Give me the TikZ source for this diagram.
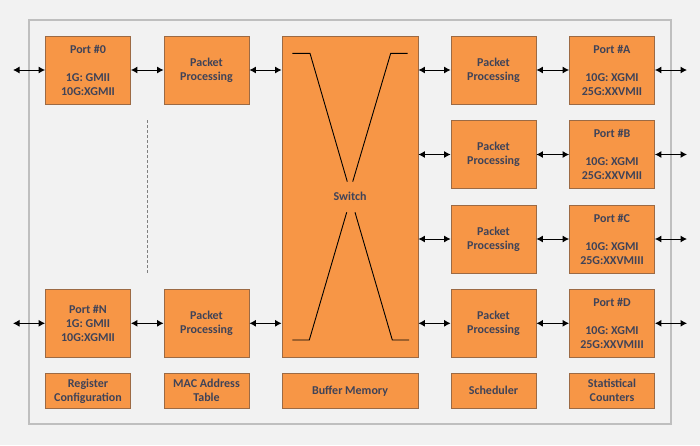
\documentclass[tikz,border=0pt]{standalone}
\usepackage{fontspec}
\setmainfont{Carlito}
\usetikzlibrary{arrows.meta}
\definecolor{bgc}{HTML}{F2F2F2}
\definecolor{framec}{HTML}{BFBFBF}
\definecolor{orangec}{HTML}{F79646}
\definecolor{borderc}{HTML}{9C6A44}
\definecolor{txtc}{HTML}{3F4358}
\begin{document}
\begin{tikzpicture}[x=1pt,y=-1pt,
  box/.style={draw=borderc,fill=orangec,line width=0.8pt,inner sep=0pt,align=center,
    text=txtc,font=\bfseries\fontsize{12}{14}\selectfont,minimum width=85pt,minimum height=68pt},
  small/.style={box,minimum height=34.5pt},
  link/.style={line width=1pt,{Latex[length=6.5pt,width=7pt]}-{Latex[length=6.5pt,width=7pt]}},
  xline/.style={line width=0.9pt,black}]
\useasboundingbox[fill=bgc] (0,0) rectangle (700,445);
\draw[framec,line width=1.4pt] (29,20) rectangle (671,424);

% left column
\node[box] (p0) at (88,70) {Port \#0\\[14pt]1G: GMII\\10G:XGMII};
\node[box] (pp0) at (206.5,70) {Packet\\Processing};
\node[box] (pN) at (88,323.3) {Port \#N\\1G: GMII\\10G:XGMII};
\node[box] (ppN) at (206.5,323.3) {Packet\\Processing};

% switch
\node[box,minimum width=136pt,minimum height=321pt] (sw) at (350,196.4) {Switch};
\draw[xline] (292.3,53.3) -- (310,53.3) -- (347.3,181.7);
\draw[xline] (407.7,53.3) -- (390.7,53.3) -- (352.7,181.7);
\draw[xline] (346.7,212.3) -- (309.3,340) -- (292.3,340);
\draw[xline] (355,212.3) -- (392.3,340) -- (409,340);

% right column
\node[box] (ppA) at (493.5,70) {Packet\\Processing};
\node[box] (ppB) at (493.5,154.5) {Packet\\Processing};
\node[box] (ppC) at (493.5,239) {Packet\\Processing};
\node[box] (ppD) at (493.5,323.3) {Packet\\Processing};
\node[box] (pA) at (612,70) {Port \#A\\[14pt]10G: XGMI\\25G:XXVMII};
\node[box] (pB) at (612,154.5) {Port \#B\\[14pt]10G: XGMI\\25G:XXVMII};
\node[box] (pC) at (612,239) {Port \#C\\[14pt]10G: XGMI\\25G:XXVMIII};
\node[box] (pD) at (612,323.3) {Port \#D\\[14pt]10G: XGMI\\25G:XXVMIII};

% bottom row
\node[small] (reg) at (88,390.8) {Register\\Configuration};
\node[small] (mac) at (206.5,390.8) {MAC Address\\Table};
\node[small,minimum width=136pt] (buf) at (350,390.8) {Buffer Memory};
\node[small] (sch) at (493.5,390.8) {Scheduler};
\node[small] (stat) at (612,390.8) {Statistical\\Counters};

% dashed
\coordinate (d1) at (147.3,120);
\coordinate (d2) at (147.3,273);
\draw[gray,line width=0.8pt,dash pattern=on 3pt off 2pt] (d1) -- (d2);

% external ends
\coordinate (e0) at (13,70);
\coordinate (eN) at (13,323.3);
\coordinate (eA) at (687,70);
\coordinate (eB) at (687,154.5);
\coordinate (eC) at (687,239);
\coordinate (eD) at (687,323.3);

% connectors
\draw[link] (e0) -- (p0.west);
\draw[link] (p0.east) -- (pp0.west);
\draw[link] (pp0.east) -- (sw.west |- pp0.east);
\draw[link] (eN) -- (pN.west);
\draw[link] (pN.east) -- (ppN.west);
\draw[link] (ppN.east) -- (sw.west |- ppN.east);
\foreach \r in {A,B,C,D}{
  \draw[link] (sw.east |- pp\r.west) -- (pp\r.west);
  \draw[link] (pp\r.east) -- (p\r.west);
  \draw[link] (p\r.east) -- (e\r);
}
\end{tikzpicture}
\end{document}
